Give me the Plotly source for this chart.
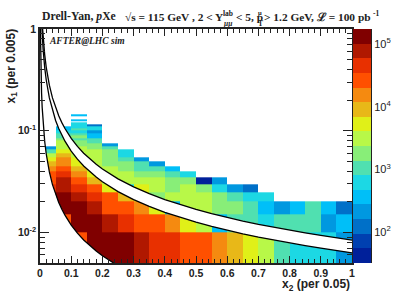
import plotly.graph_objects as go
import math

_ = None
x2_edges = [0, .05, .1, .15, .2, .25, .3, .35, .4, .45, .5, .55, .6, .65, .7, .75, .8, .85, .9, .95, 1]
x1_edges = [.005, .01, .015, .02, .025, .03, .035, .04, .045, .05, .055, .06, .065, .07, .075, .08,
            .085, .09, .095, .1, .105, .11, .115, .12, .125, .13, .135, .14, .145]

# yield per palette band
band_counts = [42, 72, 123, 211, 361, 619, 1062, 1820, 3119, 5346, 9162, 15704, 26915, 46131, 79067, 135000]

# band of each cell, one list per x2 bin, starting at the lowest x1 bin
col00 = [_, _, _, 13, 13, 12, 12, 11, 10, 9, 8, 6, 3]
col01 = [_, 12, 15, 15, 14, 14, 13, 12, 11, 11, 10, 9, 8, 8, 8, 7, 6, 6, 5, 4, 4]
col02 = [12, 15, 15, 14, 13, 12, 11, 10, 9, 9, 8, 8, 8, 7, 7, 6, 7, 6, 5, 6, 5, 5, 5, _, 4, _, _, 4]
col03 = [15, 15, 14, 13, 12, 10, 9, 8, 8, 8, 8, 8, 7, 7, 6, 6, 4, 4, 3, 5, 5, 2]
col04 = [15, 14, 12, 12, 9, 8, 8, 8, 7, 7, 7, 7, 6, 3]
col05 = [15, 13, 12, 10, 5, 8, 8, 7, 7, 6, 5, 5]
col06 = [14, 12, 11, 9, 9, 8, 7, 6, 6, 3]
col07 = [13, 12, 9, 7, 8, 8, 7, 6, 3]
col08 = [13, 11, 4, 8, 7, 7, 6, 4]
col09 = [12, 9, 8, 8, 8, 7, 5]
col10 = [12, 8, 8, 8, 7, 0]
col11 = [11, 4, 7, 7, 5, 3]
col12 = [10, 6, 7, 6, 3]
col13 = [9, 6, 6, 5, 2]
col14 = [8, 5, 4, 5]
col15 = [6, 6, 3]
col16 = [5, 6, 4]
col17 = [5, 6, 6]
col18 = [5, 3, 4]
col19 = [3, 4, 2]
columns = [col00, col01, col02, col03, col04, col05, col06, col07, col08, col09,
           col10, col11, col12, col13, col14, col15, col16, col17, col18, col19]

palette = ["#00209a", "#0040b0", "#0070c8", "#0098e0", "#00bff8", "#1cd8e4", "#50e0b0", "#88ee78",
           "#b8f848", "#e0f018", "#e8b818", "#f58a10", "#ff5000", "#e83000", "#b01800", "#800000"]

# kinematic boundary curves
low_x2 = [.00118, .002, .003, .005, .007, .01, .015, .02, .03, .04, .05, .06, .07, .08, .1, .12, .14, .16, .18, .2, .22, .236]
low_x1 = [1, .59, .393, .236, .169, .118, .0787, .059, .0393, .0295, .0236, .0197, .0169, .01475, .0118, .00983, .00843,
          .00738, .00656, .0059, .00536, .005]
mid_x2 = [.0063, .008, .01, .015, .02, .03, .04, .05, .06, .07, .08, .1, .12, .14, .16, .18, .2, .25, .3, .35, .4, .45, .5,
          .55, .6, .65, .7, .75, .8, .85, .9, .95, 1]
mid_x1 = [1, .7875, .63, .42, .315, .21, .1575, .126, .105, .09, .0788, .063, .0525, .045, .0394, .035, .0315, .0252, .021,
          .018, .01575, .014, .0126, .01145, .0105, .00969, .009, .0084, .00788, .00741, .007, .00663, .0063]
top_x2 = [.0084, .01, .015, .02, .03, .04, .05, .06, .07, .08, .1, .12, .14, .16, .18, .2, .25, .3, .35, .4, .45, .5,
          .55, .6, .65, .7, .75, .8, .85, .9, .95, 1]
top_x1 = [1, .84, .56, .42, .28, .21, .168, .14, .12, .105, .084, .07, .06, .0525, .0467, .042, .0336, .028, .024, .021,
          .0187, .0168, .01527, .014, .01292, .012, .0112, .0105, .00988, .00933, .00884, .0084]

x_ticks = [0, .1, .2, .3, .4, .5, .6, .7, .8, .9, 1]
x_labels = ["0", "0.1", "0.2", "0.3", "0.4", "0.5", "0.6", "0.7", "0.8", "0.9", "1"]
y_ticks = [1, .1, .01]
y_labels = ["1", "10<sup>-1</sup>", "10<sup>-2</sup>"]
y_minor = [.9, .8, .7, .6, .5, .4, .3, .2, .09, .08, .07, .06, .05, .04, .03, .02, .009, .008, .007, .006]
cb_ticks = [100, 1000, 10000, 100000]
cb_labels = ["10<sup>2</sup>", "10<sup>3</sup>", "10<sup>4</sup>", "10<sup>5</sup>"]
cb_minor = [40, 50, 60, 70, 80, 90, 200, 300, 400, 500, 600, 700, 800, 900, 2000, 3000, 4000, 5000, 6000, 7000, 8000, 9000,
            20000, 30000, 40000, 50000, 60000, 70000, 80000, 90000]

W, H = 399, 293
L, R_CB, T, B = 39.5, 371.0, 29.0, 263.0
FRAME_R = 352.0
LOG_MIN, LOG_MAX = 1.505, 5.24

z = []
for r in range(len(x1_edges) - 1):
    row = []
    for c in columns:
        b = c[r] if r < len(c) else None
        row.append(None if b is None else math.log10(band_counts[b]))
    z.append(row)

n = len(palette)
scale = []
for i, col in enumerate(palette):
    scale.append([i / n, col])
    scale.append([(i + 1) / n, col])

fig = go.Figure()
fig.add_trace(go.Heatmap(
    x=x2_edges, y=x1_edges, z=z, zmin=LOG_MIN, zmax=LOG_MAX, colorscale=scale, hoverongaps=False,
    colorbar=dict(x=(352.7 - L) / (R_CB - L), xanchor="left", y=0.5, yanchor="middle", len=1, lenmode="fraction",
                  thickness=18.3, thicknessmode="pixels", xpad=0, ypad=0, outlinewidth=0, ticks="", showticklabels=False),
))
# white areas: below the lowest curve, and between the two upper curves
fig.add_trace(go.Scatter(x=[0] + low_x2 + [0], y=[1] + low_x1 + [.005], mode="lines", line=dict(width=0, color="white"),
                         fill="toself", fillcolor="white", hoverinfo="skip", showlegend=False))
fig.add_trace(go.Scatter(x=top_x2 + mid_x2[::-1], y=top_x1 + mid_x1[::-1], mode="lines", line=dict(width=0, color="white"),
                         fill="toself", fillcolor="white", hoverinfo="skip", showlegend=False))
for xs, ys in [(low_x2, low_x1), (mid_x2, mid_x1), (top_x2, top_x1)]:
    fig.add_trace(go.Scatter(x=xs, y=ys, mode="lines", line=dict(width=1.3, color="black"), hoverinfo="skip", showlegend=False))
# axis drawn along the colour scale
fig.add_trace(go.Scatter(x=[0, 1], y=[100, 100000], xaxis="x2", yaxis="y2", mode="markers", marker=dict(opacity=0, size=1),
                         hoverinfo="skip", showlegend=False))

sans = "Liberation Sans"
serif = "Liberation Serif"
tickfont = dict(family=sans, size=10.5, color="#222222", weight=700)
fig.update_layout(
    width=W, height=H, autosize=False,
    margin=dict(l=L, r=W - R_CB, t=T, b=H - B, pad=0, autoexpand=False),
    paper_bgcolor="white", plot_bgcolor="white", showlegend=False,
    xaxis=dict(domain=[0, (FRAME_R - L) / (R_CB - L)], range=[0, 1], tickmode="array", tickvals=x_ticks, ticktext=x_labels,
               ticks="inside", ticklen=7, tickwidth=1.2, tickcolor="#222222", showline=True, linecolor="#222222", linewidth=1.5,
               mirror="ticks", showgrid=False, zeroline=False, tickfont=tickfont, tickangle=0,
               minor=dict(dtick=.02, tick0=0, ticks="inside", ticklen=4, tickwidth=1, tickcolor="#222222", showgrid=False)),
    yaxis=dict(type="log", range=[math.log10(.005), 0], tickmode="array", tickvals=y_ticks, ticktext=y_labels,
               ticks="inside", ticklen=9, tickwidth=1.2, tickcolor="#222222", showline=True, linecolor="#222222", linewidth=1.5,
               mirror="ticks", showgrid=False, zeroline=False, tickfont=tickfont,
               minor=dict(tickmode="array", tickvals=y_minor, ticks="inside", ticklen=5, tickwidth=1, tickcolor="#222222", showgrid=False)),
    xaxis2=dict(domain=[(352.7 - L) / (R_CB - L), 1], range=[0, 1], visible=False, anchor="y2"),
    yaxis2=dict(type="log", range=[LOG_MIN, LOG_MAX], domain=[0, 1], anchor="x2", side="right", tickmode="array",
                tickvals=cb_ticks, ticktext=cb_labels, ticks="inside", ticklen=9, tickwidth=1, tickcolor="#222222",
                showline=True, linecolor="#222222", linewidth=1, showgrid=False, zeroline=False,
                tickfont=dict(family=sans, size=11, color="#222222"),
                minor=dict(tickmode="array", tickvals=cb_minor, ticks="inside", ticklen=5, tickwidth=1, tickcolor="#222222", showgrid=False)),
)

def note(text, px, py, size=11.4, family=serif, anchor="left", angle=0, bold=True, italic=False):
    t = text
    if italic:
        t = f"<i>{t}</i>"
    if bold:
        t = f"<b>{t}</b>"
    fig.add_annotation(text=t, xref="paper", yref="paper", x=(px - L) / (R_CB - L), y=(B - py) / (B - T),
                       xanchor=anchor, yanchor="middle", showarrow=False, textangle=angle,
                       font=dict(family=family, size=size, color="#222222"), align=anchor if anchor != "center" else "center")

note("Drell-Yan, <i>p</i>Xe", 40, 17, size=11.7)
note("√s = 115 GeV , 2 &lt; Y", 123, 17)
note("lab", 220.5, 13, size=7.5)
note("μμ", 220.5, 23, size=7.5, italic=True)
note("&lt; 5, p", 234, 17)
note("μ", 255.5, 12.5, size=6.5)
note("T", 255.5, 23, size=7.5)
note("&gt; 1.2 GeV, ℒ = 100 pb", 261.5, 17)
note("-1", 371, 13, size=7.5)
note("AFTER@LHC sim", 47, 41, size=9.5, italic=True)
note("x<sub>2</sub> (per 0.05)", 352, 285, size=12, family=sans, anchor="right")
note("x<sub>1</sub> (per 0.005)", 11, 66, size=12, family=sans, anchor="center", angle=-90)

fig.write_html("out.html", config=dict(displayModeBar=False),
               post_script="document.body.style.margin='0';document.body.style.overflow='hidden';")
